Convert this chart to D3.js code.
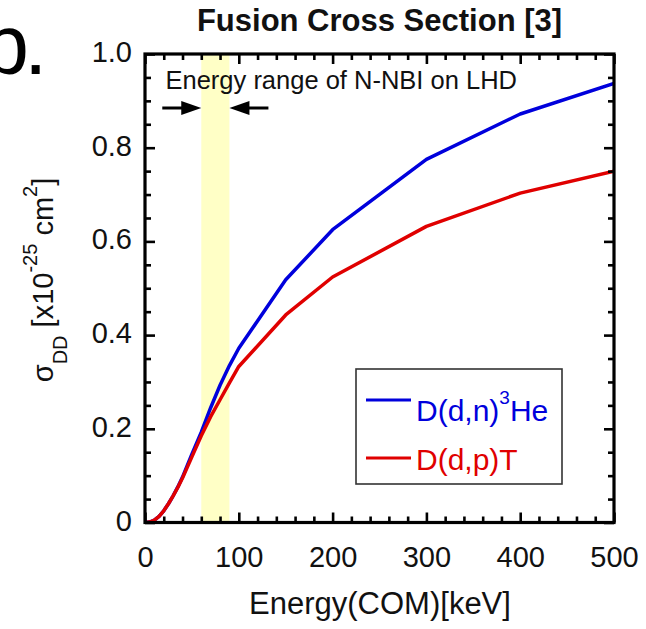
<!DOCTYPE html>
<html>
<head>
<meta charset="utf-8">
<script src="https://cdn.jsdelivr.net/npm/d3@7"></script>
<style>
  body { margin: 0; background: #fff; }
  text { font-family: "Liberation Sans", Arial, Helvetica, sans-serif; }
</style>
</head>
<body>
<svg id="chart" width="646" height="629"></svg>
<script>
// Centre-of-mass energy (keV) and D-D fusion cross sections (x10^-25 cm^2)
const energyKeV  = [0, 5, 10, 15, 20, 25, 30, 35, 40, 50, 60, 70, 80, 90, 100, 150, 200, 300, 400, 500];
const sigmaDn3He = [0, 0.001, 0.005, 0.013, 0.025, 0.040, 0.057, 0.076, 0.097, 0.146, 0.193, 0.245, 0.293, 0.335, 0.372, 0.518, 0.625, 0.775, 0.872, 0.937];
const sigmaDpT   = [0, 0.001, 0.005, 0.013, 0.025, 0.040, 0.057, 0.075, 0.095, 0.140, 0.185, 0.226, 0.262, 0.298, 0.333, 0.443, 0.524, 0.632, 0.703, 0.750];

// Energy window of the negative-ion NBI on LHD (keV)
const nbiRange = [60, 90];

// Axis ticks
const xMajorTicks = [0, 100, 200, 300, 400, 500];
const xMinorTicks = d3.range(0, 501, 20).filter(v => v % 100 !== 0);
const yMajorTicks = [0, 0.2, 0.4, 0.6, 0.8, 1.0];
const yMinorTicks = [0.05, 0.1, 0.15, 0.25, 0.3, 0.35, 0.45, 0.5, 0.55, 0.65, 0.7, 0.75, 0.85, 0.9, 0.95];

const seriesNames  = ["D(d,n)", "D(d,p)T"];
const seriesColors = ["#0000dc", "#e00000"];

const svg = d3.select("#chart");
const x = d3.scaleLinear().domain([0, 500]).range([145, 614]);
const y = d3.scaleLinear().domain([0, 1]).range([522.5, 54]);

// Panel letter, partly outside the page
svg.append("text")
  .attr("x", -17.7).attr("y", 74)
  .attr("font-size", 84).attr("letter-spacing", -5)
  .attr("fill", "#000")
  .text("b.");

// Title
svg.append("text")
  .attr("x", 379.5).attr("y", 31)
  .attr("text-anchor", "middle")
  .attr("font-size", 31).attr("font-weight", "bold")
  .attr("fill", "#111")
  .text("Fusion Cross Section [3]");

// Clip region for the plot area
svg.append("defs").append("clipPath").attr("id", "plotClip")
  .append("rect")
  .attr("x", x(0)).attr("y", y(1))
  .attr("width", x(500) - x(0)).attr("height", y(0) - y(1));

// NBI energy band
svg.append("rect")
  .attr("x", x(nbiRange[0])).attr("y", y(1))
  .attr("width", x(nbiRange[1]) - x(nbiRange[0]))
  .attr("height", y(0) - y(1))
  .attr("fill", "#ffffc6");

// Cross-section curves
const line = d3.line().x(d => x(d[0])).y(d => y(d[1]));
const plot = svg.append("g").attr("clip-path", "url(#plotClip)");
[sigmaDn3He, sigmaDpT].forEach((vals, i) => {
  plot.append("path")
    .datum(energyKeV.map((e, k) => [e, vals[k]]))
    .attr("d", line)
    .attr("fill", "none")
    .attr("stroke", seriesColors[i])
    .attr("stroke-width", 3.5)
    .attr("stroke-linejoin", "round");
});

// Axes: ticks point into the plot
function styleAxis(g, tickWidth) {
  g.select(".domain").remove();
  g.selectAll(".tick line").attr("stroke", "#000").attr("stroke-width", tickWidth);
}
const fmtY = d => d === 0 ? "0" : d3.format(".1f")(d);

svg.append("g").attr("transform", `translate(0,${y(0)})`)
  .call(d3.axisBottom(x).tickValues(xMajorTicks).tickSize(-10).tickPadding(23.5).tickFormat(d => d))
  .call(g => styleAxis(g, 2.6))
  .call(g => g.selectAll("text").attr("font-size", 29).attr("fill", "#111")
    .attr("font-family", '"Liberation Sans", Arial, sans-serif'));
svg.append("g").attr("transform", `translate(0,${y(0)})`)
  .call(d3.axisBottom(x).tickValues(xMinorTicks).tickSize(-6).tickFormat(""))
  .call(g => styleAxis(g, 2.6));
svg.append("g").attr("transform", `translate(0,${y(1)})`)
  .call(d3.axisTop(x).tickValues(xMajorTicks).tickSize(-10).tickFormat(""))
  .call(g => styleAxis(g, 2.6));
svg.append("g").attr("transform", `translate(0,${y(1)})`)
  .call(d3.axisTop(x).tickValues(xMinorTicks).tickSize(-6).tickFormat(""))
  .call(g => styleAxis(g, 2.6));

svg.append("g").attr("transform", `translate(${x(0)},0)`)
  .call(d3.axisLeft(y).tickValues(yMajorTicks).tickSize(-10).tickPadding(13).tickFormat(fmtY))
  .call(g => styleAxis(g, 2.6))
  .call(g => g.selectAll("text").attr("font-size", 29).attr("fill", "#111").attr("dy", "0.26em")
    .attr("font-family", '"Liberation Sans", Arial, sans-serif'));
svg.append("g").attr("transform", `translate(${x(0)},0)`)
  .call(d3.axisLeft(y).tickValues(yMinorTicks).tickSize(-6).tickFormat(""))
  .call(g => styleAxis(g, 2.6));
svg.append("g").attr("transform", `translate(${x(500)},0)`)
  .call(d3.axisRight(y).tickValues(yMajorTicks).tickSize(-10).tickFormat(""))
  .call(g => styleAxis(g, 2.6));
svg.append("g").attr("transform", `translate(${x(500)},0)`)
  .call(d3.axisRight(y).tickValues(yMinorTicks).tickSize(-6).tickFormat(""))
  .call(g => styleAxis(g, 2.6));

// Plot frame
svg.append("rect")
  .attr("x", x(0)).attr("y", y(1))
  .attr("width", x(500) - x(0)).attr("height", y(0) - y(1))
  .attr("fill", "none").attr("stroke", "#000").attr("stroke-width", 3.2);

// Annotation of the NBI energy range
svg.append("text")
  .attr("x", 165.5).attr("y", 89)
  .attr("font-size", 25.5).attr("fill", "#111")
  .text("Energy range of N-NBI on LHD");

const arrowY = 108;
function arrow(tipX, dir) {
  // dir = +1 points right, -1 points left
  const headLen = 20, headHalf = 7, tail = 39;
  svg.append("line")
    .attr("x1", tipX - dir * tail).attr("x2", tipX - dir * headLen * 0.6)
    .attr("y1", arrowY).attr("y2", arrowY)
    .attr("stroke", "#000").attr("stroke-width", 3);
  svg.append("path")
    .attr("d", `M${tipX},${arrowY} L${tipX - dir * headLen},${arrowY - headHalf} L${tipX - dir * headLen},${arrowY + headHalf} Z`)
    .attr("fill", "#000");
}
arrow(x(nbiRange[0]), 1);
arrow(x(nbiRange[1]), -1);

// Axis titles
svg.append("text")
  .attr("x", 380).attr("y", 614)
  .attr("text-anchor", "middle")
  .attr("font-size", 31).attr("fill", "#111")
  .text("Energy(COM)[keV]");

const yTitle = svg.append("text")
  .attr("transform", "translate(53,280) rotate(-90)")
  .attr("text-anchor", "middle")
  .attr("font-size", 29).attr("fill", "#111");
yTitle.append("tspan").text("σ");
yTitle.append("tspan").attr("font-size", 20).attr("dy", 14).text("DD");
yTitle.append("tspan").attr("dy", -14).text(" [x10");
yTitle.append("tspan").attr("font-size", 20).attr("dy", -16).text("-25");
yTitle.append("tspan").attr("dy", 16).text(" cm");
yTitle.append("tspan").attr("font-size", 20).attr("dy", -16).text("2");
yTitle.append("tspan").attr("dy", 16).text("]");

// Legend
const legend = svg.append("g");
legend.append("rect")
  .attr("x", 356).attr("y", 369).attr("width", 206).attr("height", 115)
  .attr("fill", "#fff").attr("stroke", "#333").attr("stroke-width", 1.6);
const legendLineY = [400, 458];
const legendTextY = [421, 470];
seriesNames.forEach((name, i) => {
  legend.append("line")
    .attr("x1", 366).attr("x2", 411)
    .attr("y1", legendLineY[i]).attr("y2", legendLineY[i])
    .attr("stroke", seriesColors[i]).attr("stroke-width", 3);
  const t = legend.append("text")
    .attr("x", 416).attr("y", legendTextY[i])
    .attr("font-size", 30).attr("fill", seriesColors[i]);
  t.append("tspan").text(name);
  if (i === 0) {
    t.append("tspan").attr("font-size", 19).attr("dy", -17).text("3");
    t.append("tspan").attr("dy", 17).text("He");
  }
});
</script>
</body>
</html>
